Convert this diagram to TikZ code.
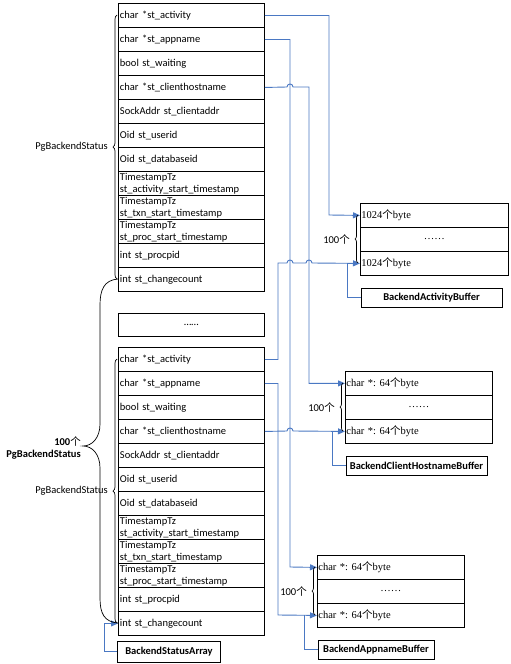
\documentclass[tikz,border=0pt]{standalone}
\usepackage{fontspec}
\setmainfont{Carlito}
\newfontfamily\cjk{Noto Sans CJK SC}
\newfontfamily\tms{Liberation Serif}
\usetikzlibrary{arrows.meta,decorations.pathreplacing}
\definecolor{linkblue}{RGB}{74,120,195}
\newcommand{\fs}{\fontsize{10.5}{12}\selectfont}
\newcommand{\GE}{{\cjk\mdseries 个}}
\frenchspacing
\begin{document}
\begin{tikzpicture}[x=1pt,y=-1pt,
  field/.style={draw=black, line width=0.9pt, minimum width=146pt, minimum height=24pt, text width=143pt, inner xsep=1.5pt, inner ysep=0pt, align=left, anchor=north west, font=\fs},
  bufrow/.style={draw=black, line width=0.8pt, minimum height=24pt, inner xsep=1pt, inner ysep=0pt, anchor=north west, font=\fs\tms},
  lbl/.style={draw=black, line width=0.8pt, font=\fs\bfseries, inner sep=0pt, minimum height=19pt},
  conn/.style={draw=linkblue, line width=0.9pt},
  arr/.style={conn, -{Triangle[length=7pt,width=6pt]}},
  brc/.style={draw=black, line width=0.7pt}]
\useasboundingbox[fill=white] (0,0) rectangle (511,664);

% structs
\foreach \pre/\yy in {t/3, b/347}{
  \foreach \txt [count=\i] in {{char *st\_activity},{char *st\_appname},{bool st\_waiting},{char *st\_clienthostname},{SockAddr st\_clientaddr},{Oid st\_userid},{Oid st\_databaseid},{TimestampTz\\st\_activity\_start\_timestamp},{TimestampTz\\st\_txn\_start\_timestamp},{TimestampTz\\st\_proc\_start\_timestamp},{int st\_procpid},{int st\_changecount}}{
    \node[field] (\pre\i) at (118,{\yy+24*(\i-1)}) {\txt};
  }
}
\node[draw=black, line width=0.9pt, minimum width=146pt, minimum height=23pt, anchor=north west, font=\fs] (dots) at (118,313) {……};

% buffers
\node[bufrow, minimum width=148pt, text width=146pt, align=left] (a1) at (360,203) {1024\GE byte};
\node[bufrow, minimum width=148pt, text width=146pt, align=center] (a2) at (360,227) {……};
\node[bufrow, minimum width=148pt, text width=146pt, align=left] (a3) at (360,251) {1024\GE byte};

\node[bufrow, minimum width=147pt, text width=145pt, align=left] (h1) at (345,371) {char *: 64\GE byte};
\node[bufrow, minimum width=147pt, text width=145pt, align=center] (h2) at (345,395) {……};
\node[bufrow, minimum width=147pt, text width=145pt, align=left] (h3) at (345,419) {char *: 64\GE byte};

\node[bufrow, minimum width=147pt, text width=145pt, align=left] (p1) at (317,555) {char *: 64\GE byte};
\node[bufrow, minimum width=147pt, text width=145pt, align=center] (p2) at (317,579) {……};
\node[bufrow, minimum width=147pt, text width=145pt, align=left] (p3) at (317,603) {char *: 64\GE byte};

% label boxes
\node[lbl, minimum width=141pt] (lblA) at (431.5,297.5) {BackendActivityBuffer};
\node[lbl, minimum width=141pt] (lblH) at (416.5,465.5) {BackendClientHostnameBuffer};
\node[lbl, minimum width=116pt] (lblP) at (376,649.5) {BackendAppnameBuffer};
\node[lbl, minimum width=103pt, minimum height=21pt] (lblS) at (169,651.5) {BackendStatusArray};

% connectors
\draw[arr] (t1.east) -| (329,215) -- (a1.west);
\draw[arr] (t2.east) -| (290,567) -- (p1.west);
\draw[arr] (t4.east) -- (287,87) .. controls (287,83) and (293,83) .. (293,87) -- (309,87) |- (h1.west);
\draw[arr] (b1.east) -| (278,263) -- (287,263) .. controls (287,259) and (293,259) .. (293,263) -- (306,263) .. controls (306,259) and (312,259) .. (312,263) -- (a3.west);
\draw[arr] (b2.east) -| (278,615) -- (p3.west);
\draw[arr] (b4.east) -- (287,431) .. controls (287,427) and (293,427) .. (293,431) -- (h3.west);

\coordinate (jA) at (347,263);
\coordinate (jH) at (332,431);
\coordinate (jP) at (304,615);
\draw[conn] (lblA.west) -| (jA);
\draw[conn] (lblH.west) -| (jH);
\draw[conn] (lblP.west) -| (jP);
\draw[arr] (lblS.west) -- (104,651.5) |- (b12.west);

% braces
\draw[brc, decorate, decoration={brace, amplitude=4pt}] (117,279) -- (117,15);
\draw[brc, decorate, decoration={brace, amplitude=4pt}] (117,623) -- (117,359);
\draw[brc, decorate, decoration={brace, amplitude=3pt}] (358,263) -- (358,215);
\draw[brc, decorate, decoration={brace, amplitude=3pt}] (343,431) -- (343,383);
\draw[brc, decorate, decoration={brace, amplitude=3pt}] (315,615) -- (315,567);
\draw[brc] (118,279) .. controls (104,280) and (100,290) .. (100,305) -- (100,424) .. controls (100,438) and (92,446) .. (83,446) .. controls (92,446) and (100,454) .. (100,468) -- (100,598) .. controls (100,613) and (104,622) .. (118,623);

\node[font=\fs, anchor=east, inner sep=0pt] (sl1) at (108,147) {PgBackendStatus};
\node[font=\fs, anchor=east, inner sep=0pt] (sl2) at (108,491) {PgBackendStatus};
\node[font=\fs\bfseries, anchor=east, align=right, inner sep=0pt] (bl) at (81,448) {100\GE\\PgBackendStatus};
\node[font=\fs, anchor=east, inner sep=0pt] (nA) at (350,239) {100\GE};
\node[font=\fs, anchor=east, inner sep=0pt] (nH) at (335,407) {100\GE};
\node[font=\fs, anchor=east, inner sep=0pt] (nP) at (307,591) {100\GE};
\end{tikzpicture}
\end{document}
